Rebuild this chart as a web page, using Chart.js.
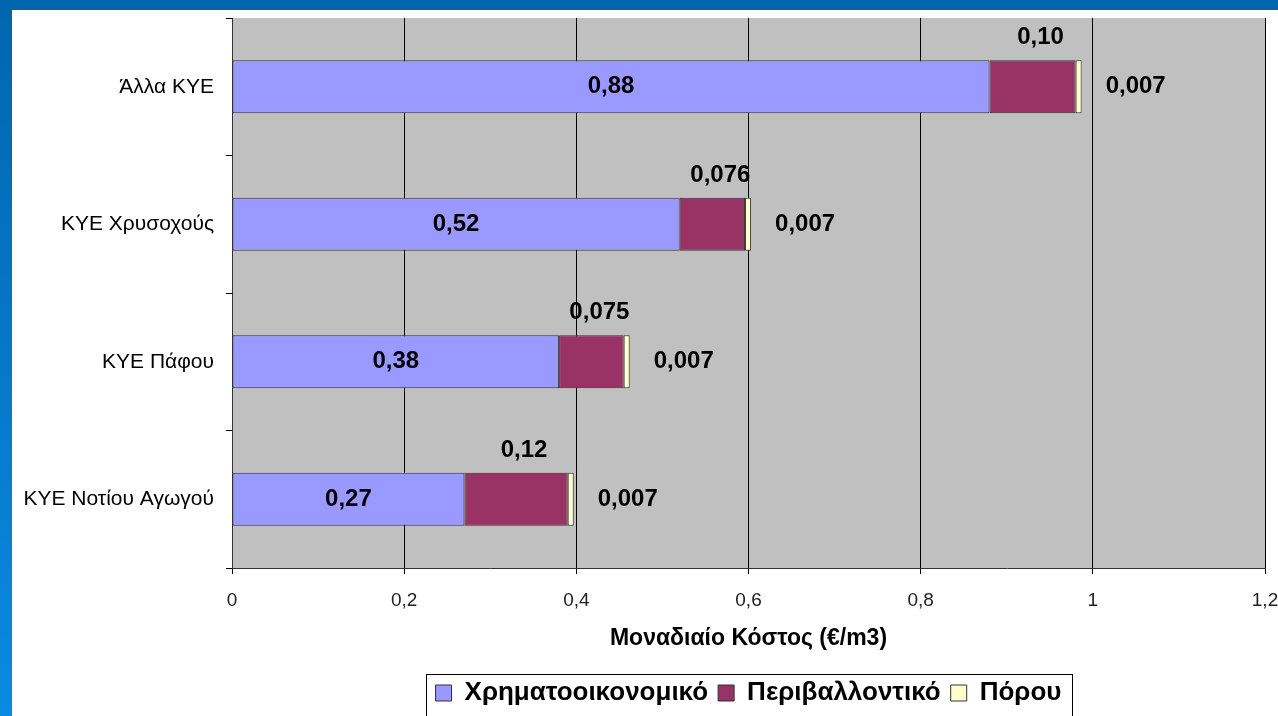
<!DOCTYPE html>
<html>
<head>
<meta charset="utf-8">
<script src="https://cdn.jsdelivr.net/npm/chart.js@4"></script>
<style>
    html, body { margin: 0; padding: 0; }
    body {
        width: 1278px; height: 716px; overflow: hidden; position: relative;
        background: linear-gradient(to bottom, #0066ae, #0a8ae2);
    }
    #wrap {
        position: absolute; left: 12px; top: 10px; width: 1266px; height: 706px;
        background: #ffffff;
    }
</style>
</head>
<body>
<div id="wrap"><canvas id="costChart"></canvas></div>
<script>
// data
const categories = ["Άλλα ΚΥΕ", "ΚΥΕ Χρυσοχούς", "ΚΥΕ Πάφου", "ΚΥΕ Νοτίου Αγωγού"];
const seriesNames = ["Χρηματοοικονομικό", "Περιβαλλοντικό", "Πόρου"];
const financial = [0.88, 0.52, 0.38, 0.27];
const environmental = [0.10, 0.076, 0.075, 0.12];
const resource = [0.007, 0.007, 0.007, 0.007];
const axisTitle = "Μοναδιαίο Κόστος (€/m3)";

const FONT = "'Liberation Sans', Arial, sans-serif";

function fmt(v) {
    const dec = (String(v).split(".")[1] || "").length;
    return v.toFixed(Math.max(2, dec)).replace(".", ",");
}

// grey plot area
const plotBg = {
    id: "plotBg",
    beforeDraw(chart) {
        const a = chart.chartArea, ctx = chart.ctx;
        ctx.save();
        ctx.fillStyle = "#c0c0c0";
        ctx.fillRect(a.left, a.top, a.right - a.left, a.bottom - a.top);
        ctx.restore();
    }
};

// value labels on the bars
const barLabels = {
    id: "barLabels",
    afterDatasetsDraw(chart) {
        const ctx = chart.ctx;
        ctx.save();
        ctx.fillStyle = "#000";
        ctx.font = "bold 24px " + FONT;
        ctx.textBaseline = "middle";
        chart.data.datasets.forEach((ds, di) => {
            chart.getDatasetMeta(di).data.forEach((el, i) => {
                const txt = fmt(ds.data[i]);
                if (di === 0) {
                    ctx.textAlign = "center";
                    ctx.fillText(txt, (el.x + el.base) / 2, el.y);
                } else if (di === 1) {
                    ctx.textAlign = "center";
                    ctx.fillText(txt, (el.x + el.base) / 2 + 8, el.y - 49);
                } else {
                    ctx.textAlign = "left";
                    ctx.fillText(txt, el.x + 24, el.y);
                }
            });
        });
        ctx.restore();
    }
};

// frame round the legend
const legendFrame = {
    id: "legendFrame",
    afterDraw(chart) {
        const lg = chart.legend;
        if (!lg || !lg.legendHitBoxes.length) return;
        const boxes = lg.legendHitBoxes;
        const last = boxes[boxes.length - 1];
        const left = boxes[0].left - 10;
        const right = last.left + last.width + 10;
        const top = boxes[0].top - 6;
        const ctx = chart.ctx;
        ctx.save();
        ctx.strokeStyle = "#000";
        ctx.lineWidth = 1;
        ctx.strokeRect(Math.round(left) + 0.5, Math.round(top) + 0.5, Math.round(right - left), 80);
        ctx.restore();
    }
};

const ctx = document.getElementById("costChart").getContext("2d");
new Chart(ctx, {
    type: "bar",
    data: {
        labels: categories,
        datasets: [
            { label: seriesNames[0], data: financial, backgroundColor: "#9999ff" },
            { label: seriesNames[1], data: environmental, backgroundColor: "#993366" },
            { label: seriesNames[2], data: resource, backgroundColor: "#ffffcc" }
        ].map(d => Object.assign(d, {
            borderColor: "#333333",
            borderWidth: 1,
            borderSkipped: false,
            barPercentage: 0.385,
            categoryPercentage: 1
        }))
    },
    options: {
        indexAxis: "y",
        responsive: true,
        maintainAspectRatio: false,
        animation: false,
        layout: { padding: { top: 8, right: 13, left: 0, bottom: 0 } },
        plugins: {
            tooltip: { enabled: false },
            legend: {
                position: "bottom",
                fullSize: false,
                labels: {
                    color: "#000",
                    font: { family: FONT, size: 26, weight: "bold" },
                    boxWidth: 16,
                    boxHeight: 16,
                    padding: 10
                }
            }
        },
        scales: {
            x: {
                stacked: true,
                min: 0,
                max: 1.2,
                ticks: {
                    stepSize: 0.2,
                    color: "#222",
                    padding: 15,
                    font: { family: FONT, size: 19 },
                    callback: v => String(Math.round(v * 10) / 10).replace(".", ",")
                },
                grid: { color: "#000", lineWidth: 1, tickLength: 6 },
                border: { color: "#333", width: 1 },
                title: {
                    display: true,
                    text: axisTitle,
                    color: "#000",
                    font: { family: FONT, size: 23, weight: "bold" },
                    padding: { top: 0, bottom: 18 }
                },
                afterFit(scale) {
                    scale.height = 102;
                    scale.paddingLeft = 0;
                    scale.paddingRight = 0;
                }
            },
            y: {
                stacked: true,
                ticks: {
                    color: "#000",
                    padding: 12,
                    font: { family: FONT, size: 21 }
                },
                grid: { drawOnChartArea: false, color: "#000", tickLength: 6 },
                border: { color: "#333", width: 1 },
                afterFit(scale) {
                    scale.width = 220;
                    scale.paddingTop = 0;
                    scale.paddingBottom = 0;
                }
            }
        }
    },
    plugins: [plotBg, barLabels, legendFrame]
});
</script>
</body>
</html>
